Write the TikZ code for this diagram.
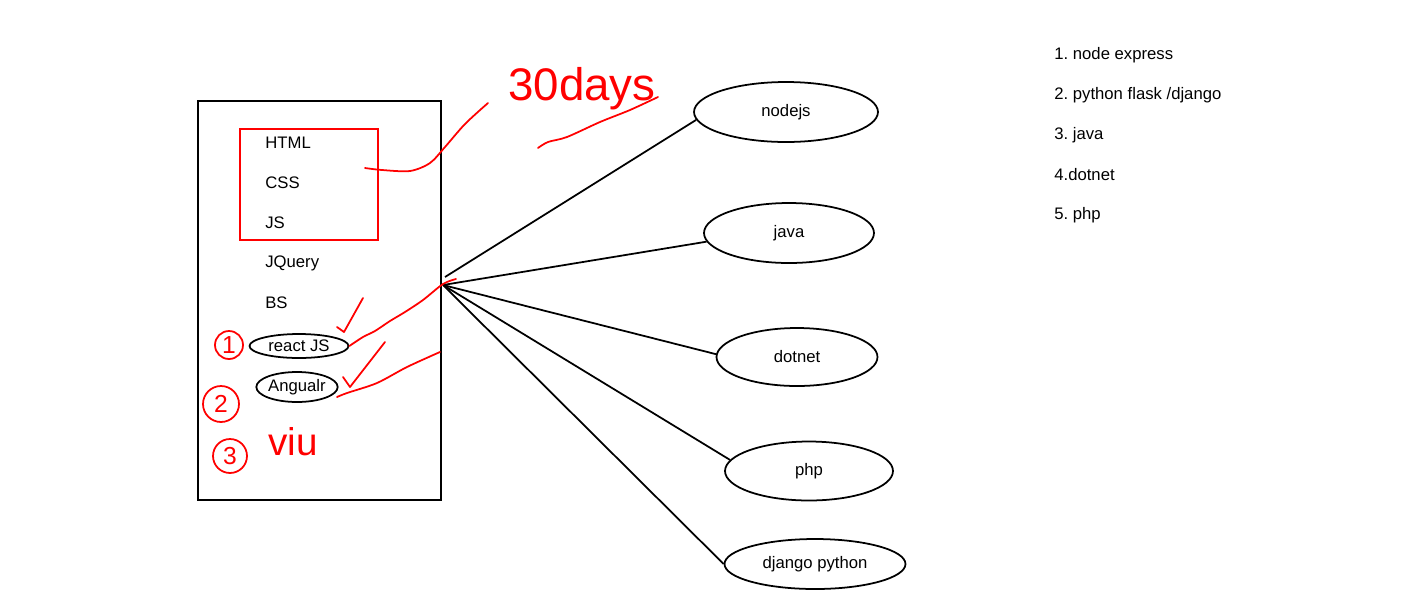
\documentclass[tikz,border=0pt]{standalone}
\usepackage{fontspec}
\setmainfont{Liberation Sans}
\usetikzlibrary{shapes.geometric}
\frenchspacing

\begin{document}
\begin{tikzpicture}[x=0.02cm, y=-0.02cm,
  txt/.style={font=\fontsize{9.5}{11}\selectfont},
  entry/.style={txt, anchor=west, inner sep=0pt},
  tech/.style={txt, draw, line width=1pt, ellipse, inner sep=0pt},
  wire/.style={line width=1pt},
  ink/.style={red, line width=1pt, line cap=round, line join=round},
  scrawl/.style={red, anchor=base west, inner sep=0pt},
  badge/.style={draw=red, text=red, line width=1pt, circle, inner sep=0pt, font=\fontsize{14}{16}\selectfont}]
  \useasboundingbox (0, 0) rectangle (1416, 613);

  \draw[line width=1pt] (198, 101) rectangle (441, 500);
  \draw[red, line width=1pt] (240, 129) rectangle (378, 240);
  \node[entry] (html) at (265, 143) {HTML};
  \node[entry] (css) at (265, 183) {CSS};
  \node[entry] (js) at (265, 223) {JS};
  \node[entry] (jquery) at (265, 263) {JQuery};
  \node[entry] (bs) at (265, 303) {BS};
  \node[tech, minimum width=1.98cm, minimum height=0.48cm] (react) at (299, 346) {react JS};
  \node[tech, minimum width=1.58cm, minimum height=0.6cm] (angualr) at (297, 387) {Angualr};

  \node[tech, minimum width=3.68cm, minimum height=1.2cm] (nodejs) at (786, 112) {nodejs};
  \node[tech, minimum width=3.4cm, minimum height=1.2cm] (java) at (789, 233) {java};
  \node[tech, minimum width=3.22cm, minimum height=1.16cm] (dotnet) at (797, 357) {dotnet};
  \node[tech, minimum width=3.36cm, minimum height=1.18cm] (php) at (809, 471) {php};
  \node[tech, minimum width=3.62cm, minimum height=1cm] (django) at (815, 564) {django python};

  \coordinate (hubtop) at (445, 277);
  \coordinate (hub) at (443, 285);
  \draw[wire] (hubtop) -- (nodejs.185);
  \draw[wire] (hub) -- (java.186);
  \draw[wire] (hub) -- (dotnet.178);
  \draw[wire] (hub) -- (php.172);
  \draw[wire] (hub) -- (django.180);

  \node[entry] (l1) at (1054, 55) {1. node express};
  \node[entry] (l2) at (1054, 95) {2. python flask /django};
  \node[entry] (l3) at (1054, 135) {3. java};
  \node[entry] (l4) at (1054, 175) {4.dotnet};
  \node[entry] (l5) at (1054, 215) {5. php};

  \node[scrawl, font=\fontsize{26}{30}\selectfont] (days) at (508, 100) {30days};
  \draw[ink] plot[smooth] coordinates {(365, 168) (382, 170) (410, 171) (430, 163) (445, 147) (465, 124) (488, 103)};
  \draw[ink] plot[smooth] coordinates {(538, 148) (548, 142) (567, 137) (600, 122) (630, 110) (658, 97)};

  \draw[ink] (337, 327) -- (344, 332) -- (363, 298);
  \draw[ink] (343, 377) -- (350, 387) -- (385, 342);
  \draw[ink] plot[smooth] coordinates {(react.east) (363, 337) (375, 331) (390, 321) (405, 312) (423, 300) (443, 284) (456, 279)};
  \draw[ink] plot[smooth] coordinates {(337, 397) (347, 393) (377, 383) (407, 367) (440, 352)};

  \node[badge, minimum size=0.56cm] (one) at (229, 345) {1};
  \node[badge, minimum size=0.72cm] (two) at (221, 404) {2};
  \node[badge, minimum size=0.68cm] (three) at (230, 456) {3};
  \node[scrawl, font=\fontsize{22}{26}\selectfont] (viu) at (268, 455) {viu};
\end{tikzpicture}
\end{document}
